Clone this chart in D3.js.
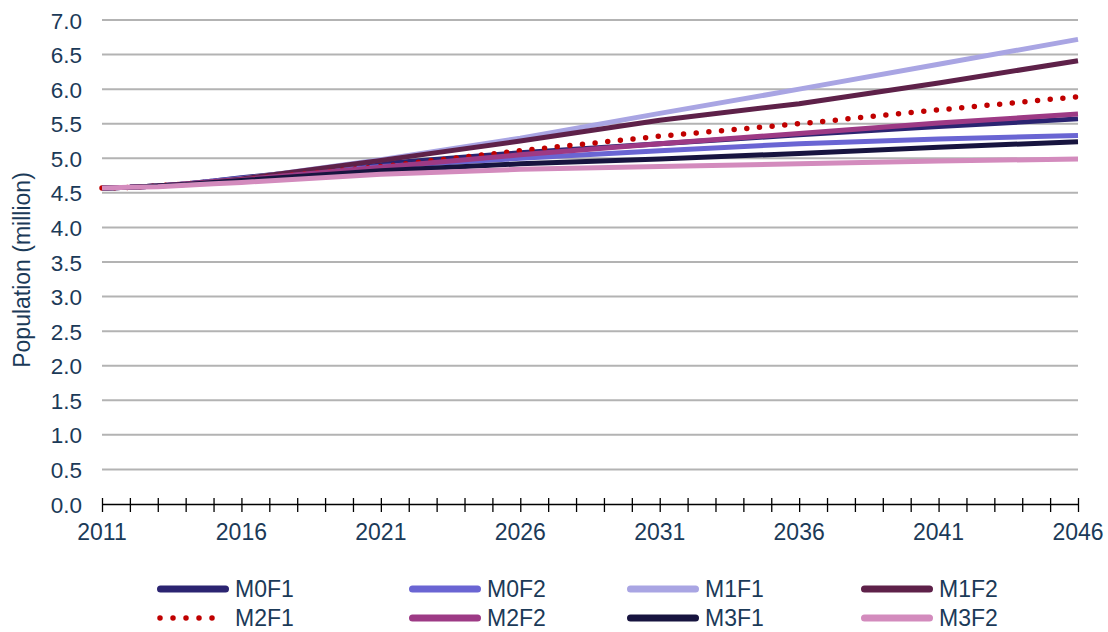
<!DOCTYPE html>
<html><head><meta charset="utf-8">
<script src="https://cdn.jsdelivr.net/npm/d3@7"></script>
<style>html,body{margin:0;padding:0;background:#fff;} svg{display:block;font-family:"Liberation Sans",Arial,sans-serif;}</style>
</head><body><svg id="c" width="1108" height="632"></svg>
<script>
// ---- data ----
const years = [2011,2012,2013,2014,2015,2016,2021,2026,2031,2036,2041,2046];
const seriesNames = ["M0F1","M0F2","M1F1","M1F2","M2F1","M2F2","M3F1","M3F2"];
const M0F1 = [4.57,4.58,4.60,4.63,4.67,4.72,4.92,5.08,5.21,5.34,5.46,5.57];
const M0F2 = [4.57,4.58,4.60,4.63,4.67,4.71,4.88,5.00,5.11,5.21,5.28,5.33];
const M1F1 = [4.57,4.58,4.60,4.63,4.66,4.70,4.98,5.29,5.65,6.00,6.36,6.72];
const M1F2 = [4.57,4.58,4.60,4.63,4.66,4.70,4.97,5.25,5.55,5.79,6.09,6.41];
const M2F1 = [4.57,4.58,4.60,4.63,4.66,4.69,4.88,5.11,5.32,5.50,5.70,5.89];
const M2F2 = [4.57,4.58,4.60,4.63,4.66,4.69,4.87,5.05,5.21,5.36,5.51,5.64];
const M3F1 = [4.57,4.58,4.60,4.62,4.65,4.68,4.82,4.92,4.99,5.07,5.16,5.24];
const M3F2 = [4.57,4.58,4.59,4.61,4.63,4.65,4.77,4.84,4.88,4.92,4.96,4.99];
const seriesColors = ["#2b2471","#6a65d3","#a9a5e3","#5e2149","#c00000","#9d3a85","#17143f","#d38bbd"];
const yTickLabels = [0,0.5,1,1.5,2,2.5,3,3.5,4,4.5,5,5.5,6,6.5,7];
const xTickLabels = [2011,2016,2021,2026,2031,2036,2041,2046];
const xMinorTicks = [2011,2012,2013,2014,2015,2016,2017,2018,2019,2020,2021,2022,2023,2024,2025,2026,2027,2028,2029,2030,2031,2032,2033,2034,2035,2036,2037,2038,2039,2040,2041,2042,2043,2044,2045,2046];
const yTitle = "Population (million)";

const seriesValues = [M0F1,M0F2,M1F1,M1F2,M2F1,M2F2,M3F1,M3F2];
const series = seriesNames.map((n,i)=>({name:n,color:seriesColors[i],dotted:n==="M2F1",
  values:years.map((yr,j)=>({year:yr,v:seriesValues[i][j]}))}));

// ---- layout ----
const textColor = "#1b3a58";
const svg = d3.select("#c");
const x = d3.scaleLinear().domain([2011,2046]).range([102,1078]);
const y = d3.scaleLinear().domain([0,7]).range([504,20]);

// gridlines
svg.append("g").selectAll("line").data(yTickLabels.filter(d=>d>0)).join("line")
  .attr("x1",x(2011)).attr("x2",x(2046)).attr("y1",d=>y(d)).attr("y2",d=>y(d))
  .attr("stroke","#b3b3b3").attr("stroke-width",2);

// y axis labels
const yAxis = svg.append("g").attr("transform",`translate(${x(2011)},0)`)
  .call(d3.axisLeft(y).tickValues(yTickLabels).tickFormat(d3.format(".1f")).tickSize(0).tickPadding(20));
yAxis.select(".domain").remove();
yAxis.selectAll("text").attr("fill",textColor).style("font-size","22.5px").attr("dy","0.36em");

// x axis
const xAxis = svg.append("g").attr("transform",`translate(0,${y(0)})`)
  .call(d3.axisBottom(x).tickValues(xMinorTicks).tickFormat("").tickSizeOuter(0).tickSizeInner(8));
xAxis.select(".domain").attr("stroke","#000").attr("stroke-width",1.5);
xAxis.selectAll(".tick line").attr("y1",-6).attr("y2",8).attr("stroke","#000").attr("stroke-width",1.3);
svg.append("g").selectAll("text").data(xTickLabels).join("text")
  .attr("x",d=>x(d)).attr("y",y(0)+36).attr("text-anchor","middle")
  .attr("fill",textColor).style("font-size","23px").text(d=>d);

// y title
svg.append("text").attr("transform",`translate(30,270) rotate(-90)`).attr("text-anchor","middle")
  .attr("fill",textColor).style("font-size","23px").text(yTitle);

// lines
const line = d3.line().x(d=>x(d.year)).y(d=>y(d.v));
svg.append("g").selectAll("path").data(series).join("path")
  .attr("d",d=>line(d.values)).attr("fill","none")
  .attr("stroke",d=>d.color)
  .attr("stroke-width",d=>d.dotted?5.5:5)
  .attr("stroke-linejoin","round")
  .attr("stroke-linecap",d=>d.dotted?"round":"butt")
  .attr("stroke-dasharray",d=>d.dotted?"0 12.7":null);

// legend
const legX = [157,409,627,861];
const legY = [589,618];
const leg = svg.append("g").selectAll("g").data(series).join("g")
  .attr("transform",(d,i)=>`translate(${legX[i%4]},${legY[Math.floor(i/4)]})`);
leg.append("line").attr("x1",d=>d.dotted?3:3.5).attr("x2",d=>d.dotted?68:68.5).attr("y1",0).attr("y2",0)
  .attr("stroke",d=>d.color).attr("stroke-width",d=>d.dotted?5.5:7)
  .attr("stroke-linecap","round")
  .attr("stroke-dasharray",d=>d.dotted?"0 13":null);
leg.append("text").attr("x",78).attr("y",0).attr("dy","0.36em")
  .attr("fill",textColor).style("font-size","23px").text(d=>d.name);
</script></body></html>
